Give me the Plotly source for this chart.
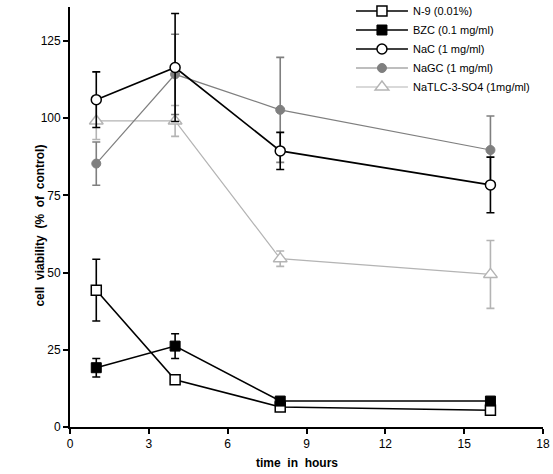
import plotly.graph_objects as go

hours = [1, 4, 8, 16]

series_names = ["N-9 (0.01%)", "BZC (0.1 mg/ml)", "NaC (1 mg/ml)", "NaGC (1 mg/ml)", "NaTLC-3-SO4 (1mg/ml)"]

n9 = [44.3, 15.3, 6.5, 5.4]
n9_err = [10, 0, 0, 0]
bzc = [19.2, 26.2, 8.4, 8.4]
bzc_err = [3, 4, 0, 0]
nac = [106.0, 116.4, 89.4, 78.4]
nac_err = [9, 17.5, 6, 9]
nagc = [85.3, 114.2, 102.7, 89.7]
nagc_err = [7, 13, 17, 11]
natlc = [99.1, 99.1, 54.5, 49.4]
natlc_err = [6, 5, 2.5, 11]

x_ticks = [0, 3, 6, 9, 12, 15, 18]
y_ticks = [0, 25, 50, 75, 100, 125]

styles = [
    dict(color="black", fill="white", symbol="square", size=10, lw=1.6, mlw=1.5),
    dict(color="black", fill="black", symbol="square", size=10, lw=1.6, mlw=1.0),
    dict(color="black", fill="white", symbol="circle", size=10, lw=1.6, mlw=1.5),
    dict(color="#7f7f7f", fill="#7f7f7f", symbol="circle", size=9, lw=1.2, mlw=1.0),
    dict(color="#b4b4b4", fill="white", symbol="triangle-up", size=12, lw=1.2, mlw=1.4),
]
values = [n9, bzc, nac, nagc, natlc]
errors = [n9_err, bzc_err, nac_err, nagc_err, natlc_err]

fig = go.Figure()
order = [4, 3, 0, 1, 2]
for i in order:
    st = styles[i]
    fig.add_trace(go.Scatter(
        x=hours, y=values[i], name=series_names[i], mode="lines+markers",
        line=dict(color=st["color"], width=st["lw"]),
        marker=dict(symbol=st["symbol"], size=st["size"], color=st["fill"],
                    line=dict(color=st["color"], width=st["mlw"])),
        error_y=dict(type="data", array=errors[i], visible=True, color=st["color"], thickness=1.6, width=4),
        legendrank=i + 1,
    ))

font_family = "Liberation Sans, Arial, Helvetica, sans-serif"
fig.update_layout(
    width=553, height=474,
    margin=dict(l=70, r=10, t=7, b=47, autoexpand=False),
    paper_bgcolor="white", plot_bgcolor="white",
    font=dict(family=font_family, color="black", size=12),
    showlegend=True,
    legend=dict(x=0.594, y=1.025, xanchor="left", yanchor="top", bgcolor="rgba(0,0,0,0)",
                font=dict(size=11, family=font_family), traceorder="normal", itemwidth=52),
    xaxis=dict(range=[0, 18], tickvals=x_ticks, showline=True, linecolor="black", linewidth=1.8,
               ticks="outside", ticklen=5, tickwidth=1.6, tickcolor="black", showgrid=False, zeroline=False,
               automargin=False),
    yaxis=dict(range=[0, 136], tickvals=y_ticks, showline=True, linecolor="black", linewidth=1.8,
               ticks="outside", ticklen=5, tickwidth=1.6, tickcolor="black", showgrid=False, zeroline=False,
               automargin=False),
    annotations=[
        dict(text="<b>time\u00a0\u00a0in\u00a0\u00a0hours</b>", xref="paper", yref="paper", x=0.48, y=-0.086,
             xanchor="center", yanchor="middle", showarrow=False, font=dict(size=12)),
        dict(text="<b>cell\u00a0\u00a0viability\u00a0\u00a0(%\u00a0\u00a0of\u00a0\u00a0control)</b>", xref="paper",
             yref="paper", x=-0.063, y=0.48, xanchor="center", yanchor="middle", textangle=-90,
             showarrow=False, font=dict(size=12)),
    ],
)

fig.write_html("out.html", config={"displayModeBar": False},
               post_script="document.body.style.margin='0px';document.body.style.padding='0px';")
